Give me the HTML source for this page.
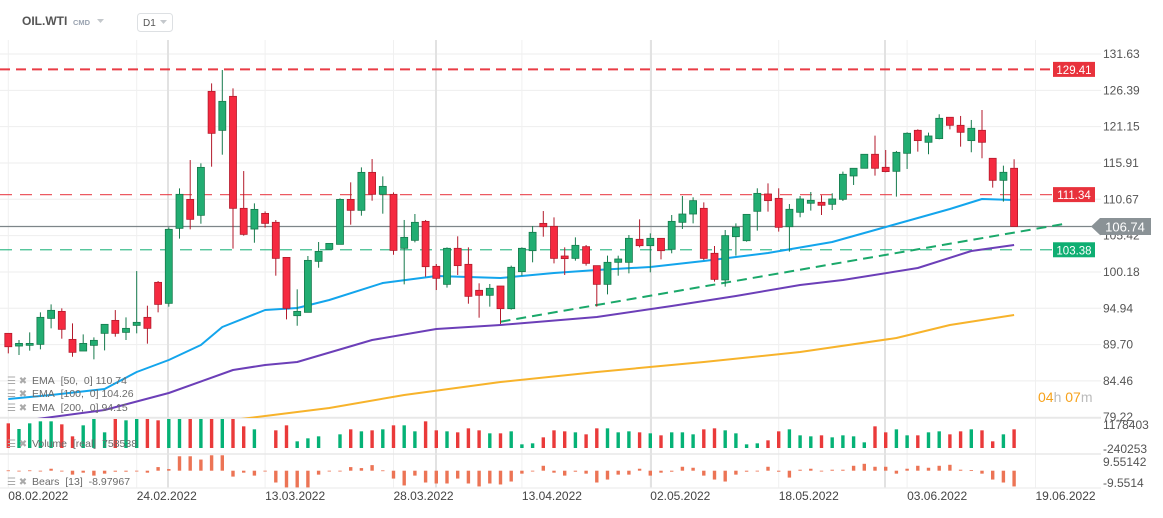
<!DOCTYPE html>
<html><head><meta charset="utf-8"><style>
html,body{margin:0;padding:0;background:#fff;}
body{width:1163px;height:518px;overflow:hidden;font-family:"Liberation Sans",sans-serif;}
svg{display:block}
</style></head><body>
<svg id="chart" width="1163" height="518" xmlns="http://www.w3.org/2000/svg" font-family="Liberation Sans, sans-serif">
<g id="grid"></g>
<g id="levels"></g>
<g id="emas"></g>
<g id="candles"></g>
<g id="vol"></g>
<g id="bears"></g>
<g id="axes"></g>
<g>
<text x="22" y="25" font-size="12" font-weight="bold" fill="#555">OIL.WTI</text>
<text x="73" y="25" font-size="7.5" font-weight="bold" fill="#9aa3b0">CMD</text>
<path d="M97 19 L104 19 L100.5 23 Z" fill="#c4c8cc"/>
<rect x="137.5" y="13.5" width="35" height="18" rx="3" fill="#fff" stroke="#dde0e3"/>
<text x="143" y="26" font-size="10" fill="#555">D1</text>
<path d="M160 20 L167 20 L163.5 24 Z" fill="#c4c8cc"/>
</g>
<g font-size="10.5" fill="#6b6b6b">
<text x="32" y="384">EMA&#160;&#160;[50,&#160;&#160;0]&#160;110.74</text>
<text x="32" y="397">EMA&#160;&#160;[100,&#160;&#160;0]&#160;104.26</text>
<text x="32" y="411">EMA&#160;&#160;[200,&#160;&#160;0]&#160;94.15</text>
<text x="32" y="447">Volume&#160;&#160;[real]&#160;&#160;758538</text>
<text x="32" y="485">Bears&#160;&#160;[13]&#160;&#160;-8.97967</text>
<text x="7" y="384" font-size="10" fill="#aaa">☰ ✖</text>
<text x="7" y="397" font-size="10" fill="#aaa">☰ ✖</text>
<text x="7" y="411" font-size="10" fill="#aaa">☰ ✖</text>
<text x="7" y="447" font-size="10" fill="#aaa">☰ ✖</text>
<text x="7" y="485" font-size="10" fill="#aaa">☰ ✖</text>
</g>
<text x="1038" y="402" font-size="14"><tspan fill="#f7a21b">04</tspan><tspan fill="#bbb">h </tspan><tspan fill="#f7a21b">07</tspan><tspan fill="#bbb">m</tspan></text>
</svg>
<script>
const opens=[91.32,89.49,89.59,89.73,93.48,94.49,90.45,88.77,89.59,91.32,93.19,91.46,92.47,93.63,98.68,95.65,106.47,110.65,108.35,126.24,120.61,125.52,109.36,106.37,108.63,107.34,102.28,93.87,94.35,101.71,103.44,104.16,110.65,109.07,114.55,111.38,111.38,103.59,104.74,107.48,100.99,98.39,103.59,101.28,97.53,96.81,98.15,94.88,100.22,103.25,107.19,106.76,102.48,102.14,103.83,101.09,98.39,101.57,101.57,104.89,103.97,105.03,103.44,107.34,108.54,109.36,102.87,99.02,105.27,104.69,108.93,111.43,110.80,106.71,108.79,110.09,110.23,109.94,110.66,114.03,115.14,117.16,115.28,114.70,117.30,120.62,118.89,119.42,122.50,121.34,119.13,120.62,116.58,113.40,115.14];
const highs=[91.32,90.36,91.46,94.35,95.50,94.93,92.76,91.17,90.74,92.62,94.68,93.63,100.31,95.31,98.87,106.61,112.24,116.33,115.85,127.39,129.32,126.67,114.74,110.08,108.92,107.67,102.28,97.67,102.48,104.50,104.30,110.80,113.11,115.27,116.47,113.97,111.66,107.68,108.54,107.68,101.33,103.73,105.32,103.73,98.54,98.44,98.15,101.09,103.73,106.81,108.97,108.06,103.73,105.17,104.07,101.09,102.53,102.53,105.51,107.77,105.75,105.03,108.40,111.14,110.95,110.22,103.92,106.23,107.19,108.54,112.25,112.97,112.25,109.98,111.14,111.72,111.24,111.53,114.66,115.14,117.16,119.85,117.78,117.64,120.33,120.76,120.28,122.93,122.50,122.69,122.11,123.55,116.58,115.52,116.44];
const lows=[88.43,88.19,88.82,89.01,92.04,90.55,87.95,88.77,87.57,88.86,90.84,90.36,91.32,89.83,94.35,95.17,104.98,106.33,107.14,115.37,117.10,103.54,105.41,104.40,106.57,99.64,93.34,92.42,94.35,100.79,103.44,104.16,107.00,108.30,110.46,108.59,102.67,98.39,104.45,99.50,97.57,97.91,99.74,95.60,93.58,95.17,92.67,94.74,99.64,101.57,105.27,101.42,99.74,101.81,101.09,95.17,96.95,99.64,99.98,103.73,100.12,102.00,102.87,106.38,107.19,101.90,98.78,98.06,102.53,104.55,106.14,108.88,106.00,103.11,108.07,109.03,108.40,109.12,110.42,112.73,115.14,114.08,114.56,111.05,115.04,117.54,117.16,119.32,120.76,118.26,117.45,116.58,112.35,110.33,106.74];
const closes=[89.39,89.87,89.87,93.63,94.64,91.90,88.58,89.87,90.31,92.62,91.32,92.04,92.91,92.04,95.50,106.33,111.38,107.77,115.27,120.18,124.80,109.36,105.60,109.21,107.19,102.14,94.93,94.49,101.85,103.15,104.30,110.65,109.07,114.55,111.38,112.53,103.29,105.17,107.34,100.94,99.26,103.59,101.09,96.66,96.81,97.82,94.88,100.85,103.59,105.90,106.71,102.14,102.10,104.02,101.42,98.39,101.57,102.05,105.03,103.97,105.03,103.25,107.48,108.54,110.47,102.14,99.11,105.42,106.62,108.49,111.52,110.47,106.62,109.22,110.71,110.52,109.80,110.71,114.27,115.14,117.16,115.14,114.66,117.44,120.19,119.13,119.80,122.35,121.34,120.33,120.91,118.89,113.40,114.56,106.74];
const volumes=[74,57,74,80,80,71,35,68,87,47,87,83,87,87,83,87,87,87,87,87,87,87,65,56,0,53,68,20,29,35,0,41,56,50,53,56,68,68,50,80,53,50,47,59,53,44,44,50,11,14,32,53,50,47,41,59,59,47,50,47,44,38,47,47,41,56,59,53,44,11,14,23,50,56,38,35,38,32,38,35,17,65,47,56,38,38,47,50,41,50,56,53,20,41,56].map(v=>v*15000);
const bearsVals=[1,0,1,0,6,0,-12,-6,-15,-9,-3,-3,0,-6,11,5,44,44,34,47,47,-18,-6,-15,-2,-36,-51,-51,-51,-12,0,0,11,8,17,1,-24,-45,-15,-36,-39,-39,-24,-39,-48,-39,-42,-33,-9,0,15,-6,-15,-3,-9,-36,-27,-12,-12,6,-15,-6,-3,12,9,-15,-27,-33,-12,-3,0,12,-3,-21,3,6,0,3,3,15,21,12,12,-9,6,15,9,15,18,3,2,-9,-27,-36,-48].map(v=>v*0.2);
const ema50Idx=[1,5,10,13,16,19,21,25,28,31,36,41,47,52,56,61,66,72,78,81,86,89,92,95];
const ema50Vals=[81.85,82.42,83.29,85.74,87.47,89.64,92.24,94.69,94.98,96.13,98.58,99.59,99.31,100.03,100.46,100.89,101.76,102.91,104.50,105.80,107.97,109.27,110.71,110.56];
const ema100Idx=[3,10,16,22,25,28,35,41,47,56,63,69,75,79,86,91,95];
const ema100Vals=[78.82,80.26,82.71,86.03,86.75,87.19,90.36,91.95,92.52,93.68,95.27,96.71,98.30,99.02,100.75,103.20,104.07];
const ema200Idx=[22,31,38,47,56,66,75,84,89,95];
const ema200Vals=[78.82,80.55,82.42,84.30,85.74,87.19,88.63,90.65,92.52,93.97];
const priceTicks=["131.63","126.39","121.15","115.91","110.67","105.42","100.18","94.94","89.70","84.46","79.22"];
const dateLabels=["08.02.2022","24.02.2022","13.03.2022","28.03.2022","13.04.2022","02.05.2022","18.05.2022","03.06.2022","19.06.2022"];
const dateSlots=[1,13,25,37,49,61,73,85,97];
const levelPrices=[129.41,111.34,103.38];
const lastPrice=106.74;
const trendStart=[47,93.0];
const trendEnd=[100,107.2];

const NS="http://www.w3.org/2000/svg";
const X=i=>8.3+(i-1)*10.7;
const Y=p=>54+(131.63-p)*6.93;
const VY=v=>448-v/45000;
const BY=v=>470.7-v*1.64;
function mk(parent,tag,attrs){const e=document.createElementNS(NS,tag);for(const k in attrs)e.setAttribute(k,attrs[k]);parent.appendChild(e);return e;}
const grid=document.getElementById('grid');
priceTicks.forEach((t)=>{const y=Y(parseFloat(t));
 const l=mk(grid,'line',{x1:0,x2:1101,y1:y,y2:y,stroke:'#eeeeee','stroke-width':1});
 
 
});
dateSlots.forEach(s=>{const x=X(s);
 const l=mk(grid,'line',{x1:x,x2:x,y1:40,y2:488,stroke:'#f0f0f0','stroke-width':1});
 
 
});
[168,436,651,885].forEach(x=>{
 const l=mk(grid,'line',{x1:x,x2:x,y1:40,y2:488,stroke:'#e2e2e2','stroke-width':2});
 
 
});
[[418,'#e4e4e4'],[454,'#e4e4e4'],[488,'#eeeeee']].forEach(([y,c])=>{
 const l=mk(grid,'line',{x1:0,x2:1101,y1:y,y2:y,stroke:c,'stroke-width':1.2});
 
 
});
const lv=document.getElementById('levels');
const lcol=['#e8323c','#e8323c','#0fae72'];
levelPrices.forEach((p,k)=>{const y=Y(p);
 const l=mk(lv,'line',{x1:0,x2:1053,y1:y,y2:y,stroke:lcol[k],'stroke-width':k==0?2:1.2,'stroke-dasharray':k==0?'10 6':'12 8',opacity:k==0?0.95:0.8});
 
 
 const r=mk(lv,'rect',{x:1053,y:y-7.5,width:42,height:15,fill:lcol[k]});
 
 
 const t=mk(lv,'text',{x:1074,y:y+4.5,'font-size':11.5,fill:'#fff','text-anchor':'middle'});t.textContent=p.toFixed(2);
 
 
});
const ly=Y(lastPrice);
const ll=mk(lv,'line',{x1:0,x2:1092,y1:ly,y2:ly,stroke:'#7d8589','stroke-width':1.2});


const tl=mk(lv,'line',{x1:X(trendStart[0]),y1:Y(trendStart[1]),x2:X(trendEnd[0]),y2:Y(trendEnd[1]),stroke:'#1aa86a','stroke-width':2,'stroke-dasharray':'10 6'});


const em=document.getElementById('emas');
function drawEma(idx,vals,col,name){
 const d=idx.map((i,k)=>(k?'L':'M')+X(i).toFixed(1)+' '+Y(vals[k]).toFixed(1)).join(' ');
 const p=mk(em,'path',{d:d,fill:'none',stroke:col,'stroke-width':2,'stroke-linejoin':'round','clip-path':'url(#mainclip)'});
 
 
}
const defs=mk(document.getElementById('chart'),'defs',{});
const cp=mk(defs,'clipPath',{id:'mainclip'});mk(cp,'rect',{x:0,y:40,width:1101,height:378});
drawEma(ema200Idx,ema200Vals,'#f7b32b','ema200-line');
drawEma(ema100Idx,ema100Vals,'#6c3fb8','ema100-line');
drawEma(ema50Idx,ema50Vals,'#13a5ec','ema50-line');
const cg=document.getElementById('candles');
const vg=document.getElementById('vol');
const bg=document.getElementById('bears');
opens.forEach((o,k)=>{const i=k+1,x=X(i),c=closes[k],up=c>=o;
 const fill=up?'#22ad72':'#f52a40',stroke=up?'#167a4c':'#b31a2b';
 const w=mk(cg,'line',{x1:x,x2:x,y1:Y(highs[k]),y2:Y(lows[k]),stroke:stroke,'stroke-width':1});
 
 
 const top=Y(Math.max(o,c)),h=Math.max(1.5,Math.abs(Y(o)-Y(c)));
 const b=mk(cg,'rect',{x:x-3.5,y:top,width:7,height:h,fill:fill,stroke:stroke,'stroke-width':0.8});
 
 
 if(volumes[k]>0){
  const vy=VY(volumes[k]);
  const v=mk(vg,'rect',{x:x-1.7,y:vy,width:3.4,height:448-vy,fill:up?'#05b276':'#ea3a3a'});
  
  
 }
 const bv=bearsVals[k];const y0=BY(0),y1=BY(bv);
 const bb=mk(bg,'rect',{x:x-1.7,y:Math.min(y0,y1),width:3.4,height:Math.max(0.8,Math.abs(y1-y0)),fill:'#ec7455'});
 
 
});
const ax=document.getElementById('axes');
priceTicks.forEach(t=>{
 const tx=mk(ax,'text',{x:1103,y:Y(parseFloat(t))+4,'font-size':12,fill:'#555'});tx.textContent=t;
 
 
});
[['1178403',429],['-240253',453],['9.55142',466],['-9.5514',487]].forEach(([t,y])=>{
 const tx=mk(ax,'text',{x:1103,y:y,'font-size':12,fill:'#555'});tx.textContent=t;
 
 
});
const lb=mk(ax,'path',{d:`M1091 ${ly} L1100 ${ly-8.5} L1151 ${ly-8.5} L1151 ${ly+8.5} L1100 ${ly+8.5} Z`,fill:'#8a9296'});


const lt=mk(ax,'text',{x:1125,y:ly+5,'font-size':13,fill:'#fff','text-anchor':'middle'});lt.textContent=lastPrice.toFixed(2);


dateLabels.forEach((d,k)=>{
 const tx=mk(ax,'text',{x:X(dateSlots[k]),y:500,'font-size':12,fill:'#444'});tx.textContent=d;
 
 
});
</script>
</body></html>
